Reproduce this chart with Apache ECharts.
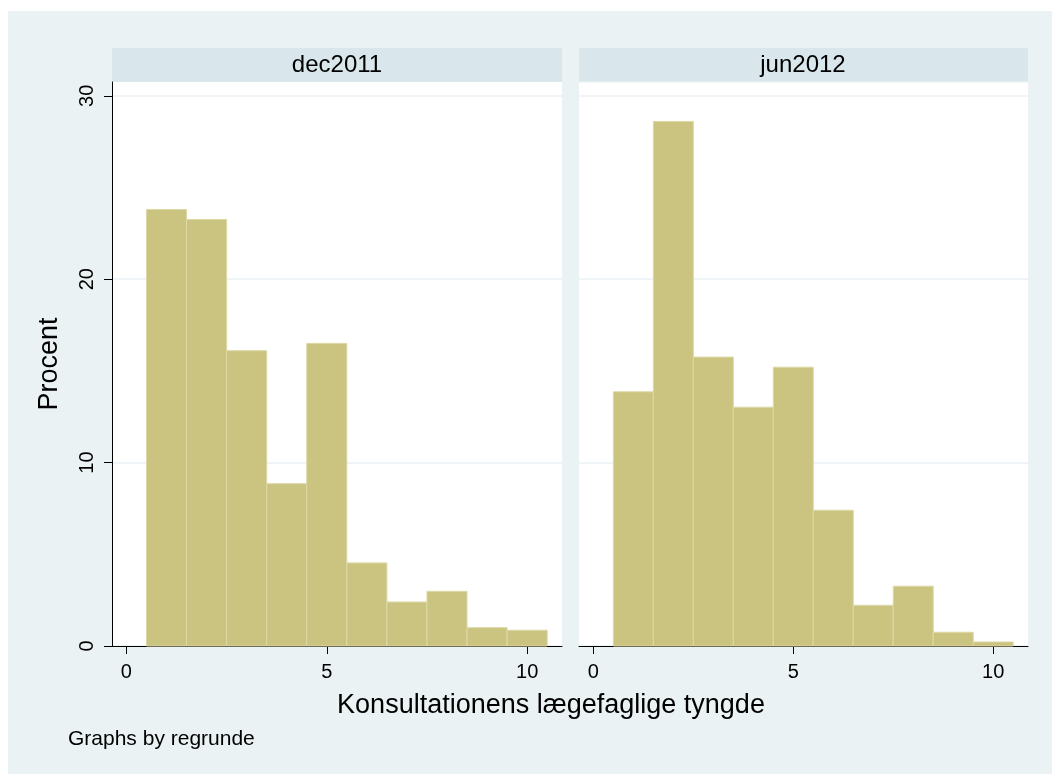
<!DOCTYPE html>
<html>
<head>
<meta charset="utf-8">
<script src="https://cdn.jsdelivr.net/npm/echarts@6/dist/echarts.min.js"></script>
<style>
  html, body { margin: 0; padding: 0; background: #fff; }
  #chart { width: 1052px; height: 774px; }
</style>
</head>
<body>
<div id="chart"></div>
<script>
// histogram bins (konsultationens lægefaglige tyngde), percent per bin
const panels = ['dec2011', 'jun2012'];
const binLeft = [0.5, 1.5, 2.5, 3.5, 4.5, 5.5, 6.5, 7.5, 8.5, 9.5];
const binRight = [1.5, 2.5, 3.5, 4.5, 5.5, 6.5, 7.5, 8.5, 9.5, 10.5];
const dec2011 = [23.8, 23.25, 16.1, 8.85, 16.5, 4.53, 2.4, 2.98, 1.0, 0.86];
const jun2012 = [13.86, 28.6, 15.75, 13.02, 15.2, 7.4, 2.22, 3.26, 0.75, 0.22];
const xTicks = [0, 5, 10];
const yTicks = [0, 10, 20, 30];

const FONT = "'Liberation Sans', Arial, sans-serif";
const BG = '#EAF2F3';
const STRIP = '#D9E6EB';

function toBins(values) {
  return values.map((v, i) => [binLeft[i], binRight[i], v]);
}

function renderBar(params, api) {
  const topLeft = api.coord([api.value(0), api.value(2)]);
  const bottomRight = api.coord([api.value(1), 0]);
  return {
    type: 'rect',
    shape: {
      x: topLeft[0],
      y: topLeft[1],
      width: bottomRight[0] - topLeft[0],
      height: bottomRight[1] - topLeft[1]
    },
    style: {fill: '#CBC481', stroke: '#DDD8A5', lineWidth: 1}
  };
}

function xAxisFor(idx) {
  return {
    gridIndex: idx,
    type: 'value',
    min: -0.36,
    max: 10.87,
    axisLine: {show: true, onZero: false, lineStyle: {color: '#000', width: 1}},
    axisTick: {show: true, length: 8, customValues: xTicks, lineStyle: {color: '#000'}},
    axisLabel: {fontSize: 20, color: '#000', fontFamily: FONT, margin: 16, customValues: xTicks},
    splitLine: {show: false}
  };
}

const myChart = echarts.init(document.getElementById('chart'));

const option = {
  animation: false,
  backgroundColor: '#fff',
  graphic: [
    {type: 'rect', z: -10, shape: {x: 8, y: 11, width: 1044, height: 763}, style: {fill: BG}},
    {type: 'rect', z: -5, shape: {x: 112, y: 48, width: 450, height: 34}, style: {fill: STRIP}},
    {type: 'rect', z: -5, shape: {x: 579, y: 48, width: 449, height: 34}, style: {fill: STRIP}},
    {type: 'text', x: 337, y: 65, style: {text: panels[0], font: '24px ' + FONT, fill: '#000', textAlign: 'center', textVerticalAlign: 'middle'}},
    {type: 'text', x: 803, y: 65, style: {text: panels[1], font: '24px ' + FONT, fill: '#000', textAlign: 'center', textVerticalAlign: 'middle'}},
    {type: 'text', x: 551, y: 706, style: {text: 'Konsultationens lægefaglige tyngde', font: '27px ' + FONT, fill: '#000', textAlign: 'center', textVerticalAlign: 'middle'}},
    {type: 'text', x: 68, y: 739, style: {text: 'Graphs by regrunde', font: '21px ' + FONT, fill: '#000', textAlign: 'left', textVerticalAlign: 'middle'}}
  ],
  grid: [
    {left: 112, top: 82, width: 450, height: 564, show: true, backgroundColor: '#fff', borderWidth: 0},
    {left: 579, top: 82, width: 449, height: 564, show: true, backgroundColor: '#fff', borderWidth: 0}
  ],
  xAxis: [xAxisFor(0), xAxisFor(1)],
  yAxis: [
    {
      gridIndex: 0,
      type: 'value',
      min: 0,
      max: 30.75,
      interval: 10,
      name: 'Procent',
      nameLocation: 'middle',
      nameGap: 49,
      nameRotate: 90,
      nameTextStyle: {fontSize: 27, color: '#000', fontFamily: FONT},
      axisLine: {show: true, onZero: false, lineStyle: {color: '#000', width: 1}},
      axisTick: {show: true, length: 8, customValues: yTicks, lineStyle: {color: '#000'}},
      axisLabel: {rotate: 90, fontSize: 20, color: '#000', fontFamily: FONT, margin: 15, customValues: yTicks},
      splitLine: {show: true, lineStyle: {color: BG, width: 1.5}}
    },
    {
      gridIndex: 1,
      type: 'value',
      min: 0,
      max: 30.75,
      interval: 10,
      axisLine: {show: false, onZero: false},
      axisTick: {show: false},
      axisLabel: {show: false},
      splitLine: {show: true, lineStyle: {color: BG, width: 1.5}}
    }
  ],
  series: [
    {
      name: panels[0],
      type: 'custom',
      xAxisIndex: 0,
      yAxisIndex: 0,
      renderItem: renderBar,
      encode: {x: [0, 1], y: 2},
      data: toBins(dec2011)
    },
    {
      name: panels[1],
      type: 'custom',
      xAxisIndex: 1,
      yAxisIndex: 1,
      renderItem: renderBar,
      encode: {x: [0, 1], y: 2},
      data: toBins(jun2012)
    }
  ]
};

myChart.setOption(option);
</script>
</body>
</html>
